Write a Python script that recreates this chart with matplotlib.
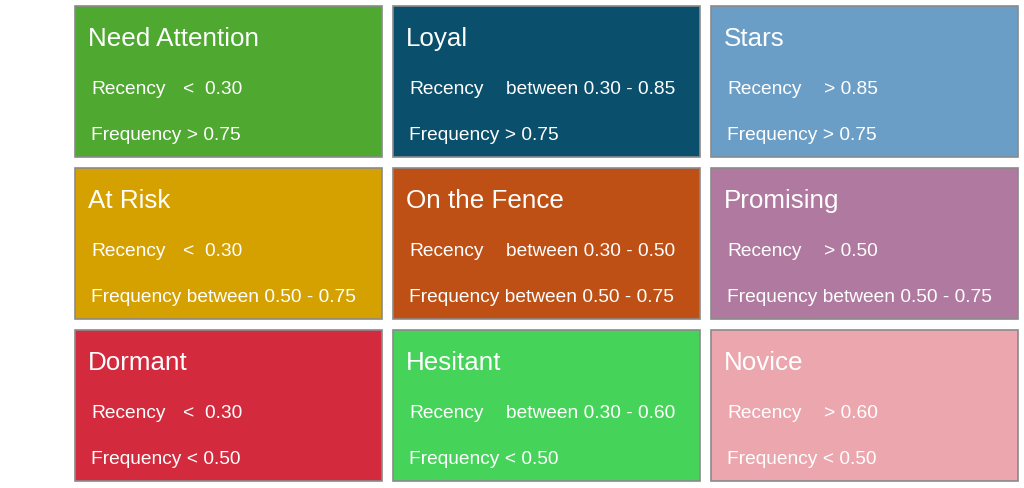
import matplotlib
matplotlib.use("Agg")
import matplotlib.pyplot as plt
from matplotlib.patches import Rectangle

plt.rcParams['font.family'] = ['Liberation Sans', 'DejaVu Sans']

segments = ["Need Attention", "Loyal", "Stars",
            "At Risk", "On the Fence", "Promising",
            "Dormant", "Hesitant", "Novice"]
recency = ["<  0.30", "between 0.30 - 0.85", "> 0.85",
           "<  0.30", "between 0.30 - 0.50", "> 0.50",
           "<  0.30", "between 0.30 - 0.60", "> 0.60"]
frequency = ["> 0.75", "> 0.75", "> 0.75",
             "between 0.50 - 0.75", "between 0.50 - 0.75", "between 0.50 - 0.75",
             "< 0.50", "< 0.50", "< 0.50"]
colors = ["#4fa830", "#0a4f6b", "#6b9ec6",
          "#d4a100", "#be5015", "#b07aa0",
          "#d32a3d", "#46d35a", "#eca6ae"]

W, H = 1024, 489
fig = plt.figure(figsize=(W / 100, H / 100), dpi=100)
ax = fig.add_axes([0, 0, 1, 1])
ax.set_xlim(0, W)
ax.set_ylim(H, 0)
ax.axis("off")

x0, y0 = 75, 7
bw, bh = 307, 151
gx, gy = 318, 162

for i, name in enumerate(segments):
    r, c = divmod(i, 3)
    x = x0 + c * gx
    y = y0 + r * gy
    ax.add_patch(Rectangle((x, y), bw, bh, facecolor=colors[i],
                           edgecolor="#8a8a8a", linewidth=1.2))
    ax.text(x + 13, y + 32, name, fontsize=18.7, color="white",
            va="center", ha="left")
    ax.text(x + 16, y + 83, "Recency", fontsize=13.8, color="white",
            va="center", ha="left")
    off = 92 if recency[i].startswith("<") else 97
    ax.text(x + 16 + off, y + 83, recency[i], fontsize=13.8, color="white",
            va="center", ha="left")
    ax.text(x + 16, y + 129, "Frequency " + frequency[i], fontsize=13.8,
            color="white", va="center", ha="left")

fig.savefig("out.png", dpi=100, facecolor="white")
